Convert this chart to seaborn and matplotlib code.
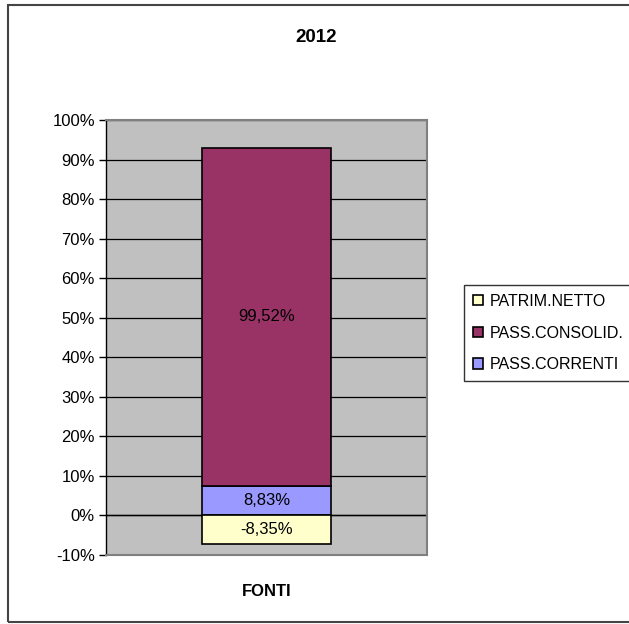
import numpy as np
import seaborn as sns
import matplotlib.pyplot as plt
from matplotlib.patches import Rectangle
from matplotlib.ticker import FuncFormatter

# dati del grafico (valori percentuali mostrati sulle etichette)
categoria = ["FONTI"]
serie = ["PASS.CORRENTI", "PASS.CONSOLID.", "PATRIM.NETTO"]
valori = [8.83, 99.52, -8.35]
colori = ["#9999FF", "#993366", "#FFFFCC"]
titolo = "2012"

sns.set_style("white")
plt.rcParams['font.family'] = ['Liberation Sans', 'DejaVu Sans']
plt.rcParams['text.color'] = 'black'
plt.rcParams['xtick.color'] = 'black'
plt.rcParams['ytick.color'] = 'black'

fig = plt.figure(figsize=(6.29, 6.24), dpi=100)
ax = fig.add_axes([0.1685, 0.1106, 0.5104, 0.6971])

# 100% in pila come Excel: normalizza sulla somma dei valori assoluti
valori = np.array(valori)
quote = valori / np.abs(valori).sum() * 100

base_pos = 0.0
base_neg = 0.0
for nome, v, q, col in zip(serie, valori, quote, colori):
    if q >= 0:
        bottom = base_pos
        base_pos += q
    else:
        bottom = base_neg
        base_neg += q
    sns.barplot(x=categoria, y=[q], bottom=[bottom], color=col, width=0.4,
                saturation=1, edgecolor='black', linewidth=1.2, label=nome,
                ax=ax, zorder=3)
    etichetta = ("%.2f%%" % v).replace('.', ',')
    ax.bar_label(ax.containers[-1], labels=[etichetta], label_type='center',
                 fontsize=12, color='black', zorder=4)

if ax.get_legend() is not None:
    ax.get_legend().remove()

ax.set_ylim(-10, 100)
ax.set_yticks(range(-10, 101, 10))
ax.yaxis.set_major_formatter(FuncFormatter(lambda y, p: "%d%%" % y))
ax.set_facecolor('#C0C0C0')
ax.grid(axis='y', color='black', linewidth=0.9, zorder=1)
ax.set_axisbelow(True)
for s in ['top', 'right', 'bottom']:
    ax.spines[s].set_color('#808080')
    ax.spines[s].set_linewidth(1.5)
ax.spines['left'].set_color('black')
ax.spines['left'].set_linewidth(1.0)
ax.tick_params(axis='y', direction='out', length=5, width=1, color='black',
               labelsize=12, left=True, pad=3, labelcolor='black')
ax.tick_params(axis='x', length=0, labelsize=12, pad=21, labelcolor='black')
for t in ax.get_xticklabels():
    t.set_fontweight('bold')
ax.set_xlabel("")
ax.set_ylabel("")
ax.axhline(0, color='black', linewidth=1.0, zorder=2)

fig.text(0.502, 0.94, titolo, ha='center', va='center', fontsize=13.5,
         fontweight='bold', color='black')

# cornice esterna
fig.patches.append(Rectangle((0.0127, 0.0035), 1.2, 0.9885, transform=fig.transFigure,
                             fill=False, edgecolor='#444444', linewidth=1.5))

handles, labels = ax.get_legend_handles_labels()
leg = fig.legend(handles[::-1], labels[::-1], loc='upper left',
                 bbox_to_anchor=(0.7377, 0.5433), fontsize=11.5, frameon=True,
                 fancybox=False, edgecolor='black', handlelength=0.65,
                 handleheight=0.65, handletextpad=0.4, labelspacing=1.05,
                 borderpad=0.55, borderaxespad=0)
leg.get_frame().set_linewidth(1.0)
for t in leg.get_texts():
    t.set_color('black')

fig.savefig("out.png", dpi=100)
